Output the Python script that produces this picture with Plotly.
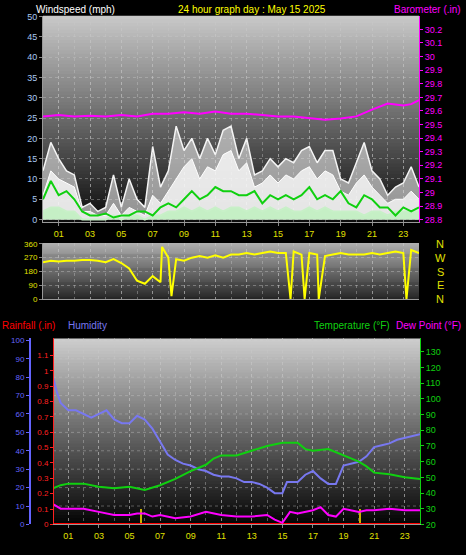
import plotly.graph_objects as go

# ---------------- data ----------------
wind_hours = [i * 0.5 for i in range(49)]
gust = [12,19,15,12,11,3,4,2,3,11,3,10,5,3,18,8,12,23,17,20,15,20,16,22,23,15,20,11,12,15,13,15,14,17,18,14,17,17,10,9,14,19,12,10,6,8,9,13,8]
wind_mid = [6,12,10,9,8,2,2,1,1,4,1,3,2,1,6,4,7,10,13,15,10,13,12,16,17,12,14,8,9,11,9,11,10,12,13,10,12,11,7,6,9,11,8,6,4,5,5,7,5]
wind_avg = [5,9.5,6,7,5,2,1,1,1.5,0.5,1,1,2,2,1,3,4,3,5,7,5,6,8,7,7,6,6,7,4,6,5,6,5,6,8,5,6,5,7,4,3,6,5,3,3,1,3,2,3]
wind_low = [2,3,3,2,2,0,0,0,0,1,0,1,1,0,1,1,2,2,3,2,3,2,3,2,3,3,2,3,2,3,2,3,2,2,3,2,3,2,2,2,2,1,2,2,1,2,2,2,2]

baro_hours = [0,1,2,3,4,5,6,7,8,9,10,11,12,13,14,15,16,17,18,19,20,21,22,23,23.5,24]
baro = [29.56,29.57,29.56,29.565,29.56,29.57,29.56,29.58,29.58,29.59,29.58,29.595,29.58,29.58,29.57,29.56,29.56,29.55,29.535,29.545,29.56,29.61,29.655,29.64,29.65,29.68]

dir_hours = [0,0.5,1,1.5,2,2.5,3,3.5,4,4.5,5,5.5,6,6.5,7,7.5,7.6,8,8.2,8.5,9,9.5,10,10.5,11,11.5,12,12.5,13,13.5,14,14.5,15,15.5,15.8,16,16.5,16.7,17,17.5,17.6,18,18.5,19,19.5,20,20.5,21,21.5,22,22.5,23,23.2,23.5,24]
wind_dir = [240,250,245,250,250,255,255,250,240,260,235,200,120,100,150,110,340,270,20,260,250,270,280,270,285,270,290,290,300,290,300,310,300,300,0,310,290,0,300,290,0,280,290,300,290,290,290,300,290,300,310,300,0,320,300]

hum_hours = [0,0.25,0.5,1,1.5,2,2.5,3,3.5,4,4.5,5,5.5,6,6.5,7,7.5,8,8.5,9,9.5,10,10.5,11,11.5,12,12.5,13,13.5,14,14.5,15,15.3,16,16.5,17,17.5,18,18.5,19,19.5,20,20.5,21,21.5,22,22.5,23,23.5,24]
humidity = [80,72,66,62,62,60,58,60,62,57,55,55,59,57,52,45,38,35,33,32,30,29,27,26,26,25,23,23,22,20,17,17,23,23,27,29,25,22,22,32,33,34,37,42,43,44,46,47,48,49]

temp_hours = [0,0.5,1,2,3,4,5,6,7,8,9,10,10.5,11,12,13,14,15,16,16.5,17,18,19,20,20.5,21,22,23,24]
temperature = [43,45,46,46,44,43,44,42,45,49,54,58,62,64,64,67,70,72,72,68,67,68,64,60,57,53,52,50,49]

dew_hours = [0,0.5,1,2,3,4,5,5.5,6,6.5,7,8,9,10,11,12,13,14,14.5,15,15.5,16,17,17.5,18,18.5,19,20,20.5,21,22,23,24]
dewpoint = [33,30,30,30,28,26,26,27,27,25,26,24,25,28,26,25,25,26,23,21,28,27,29,31,26,25,30,28,29,29,30,29,29]

rain_hours = [0,24]
rainfall = [0,0]
event_hours = [5.75,20.1]
event_vals = [0.1,0.1]

hour_ticks = list(range(1,24,2))
hour_labels = ["%02d" % h for h in hour_ticks]

# ---------------- figure ----------------
W, H = 466, 555
def px(x): return x / W
def py(y): return 1 - y / H

FONT = "Liberation Sans"
fig = go.Figure()

# panel 1
fig.add_trace(go.Scatter(x=wind_hours, y=gust, mode="lines", line=dict(color="#f4f4f4", width=1.5),
                         fill="tozeroy", fillcolor="rgba(220,220,220,0.65)", xaxis="x", yaxis="y"))
fig.add_trace(go.Scatter(x=wind_hours, y=wind_mid, mode="lines", line=dict(color="#ffffff", width=1),
                         fill="tozeroy", fillcolor="rgba(250,250,250,0.8)", xaxis="x", yaxis="y"))
fig.add_trace(go.Scatter(x=wind_hours, y=wind_low, mode="lines", line=dict(color="#c8f0c8", width=2),
                         fill="tozeroy", fillcolor="rgba(190,240,190,0.85)", xaxis="x", yaxis="y"))
fig.add_trace(go.Scatter(x=wind_hours, y=wind_avg, mode="lines", line=dict(color="#10d010", width=2),
                         xaxis="x", yaxis="y"))
fig.add_trace(go.Scatter(x=baro_hours, y=baro, mode="lines", line=dict(color="#ff00ff", width=2),
                         xaxis="x", yaxis="y2"))
# panel 2
fig.add_trace(go.Scatter(x=dir_hours, y=wind_dir, mode="lines", line=dict(color="#ffff00", width=2),
                         xaxis="x2", yaxis="y3"))
# panel 3
fig.add_trace(go.Scatter(x=hum_hours, y=humidity, mode="lines", line=dict(color="#7878f0", width=2),
                         xaxis="x3", yaxis="y4"))
fig.add_trace(go.Scatter(x=rain_hours, y=rainfall, mode="lines", line=dict(color="#ff0000", width=3),
                         xaxis="x3", yaxis="y5"))
fig.add_trace(go.Bar(x=event_hours, y=event_vals, width=0.12, marker=dict(color="#c8b400", line=dict(width=0)),
                     xaxis="x3", yaxis="y5"))
fig.add_trace(go.Scatter(x=temp_hours, y=temperature, mode="lines", line=dict(color="#10d010", width=2),
                         xaxis="x3", yaxis="y6"))
fig.add_trace(go.Scatter(x=dew_hours, y=dewpoint, mode="lines", line=dict(color="#ff00ff", width=2),
                         xaxis="x3", yaxis="y6"))

GC = "rgba(200,200,200,0.4)"
grid = dict(showgrid=True, gridcolor=GC, griddash="dot", gridwidth=1, zeroline=False)
xcommon = dict(range=[0, 24], tickvals=hour_ticks, ticktext=hour_labels,
               tickfont=dict(color="#e0e000", size=9, family=FONT), ticks="outside", ticklen=3,
               tickcolor="#888", showline=True, linecolor="#999",
               minor=dict(dtick=1, showgrid=True, gridcolor=GC, griddash="dot"), **grid)

def ticks(vals, fmt):
    return dict(tickvals=vals, ticktext=[fmt(v) for v in vals])

baro_t = [round(28.8 + 0.1 * i, 1) for i in range(15)]
fig.update_layout(
    width=W, height=H, margin=dict(l=0, r=0, t=0, b=0),
    paper_bgcolor="black", plot_bgcolor="rgba(0,0,0,0)", showlegend=False,
    font=dict(family=FONT, size=9),
    xaxis=dict(domain=[px(43), px(419)], anchor="y", **xcommon),
    yaxis=dict(domain=[py(222), py(12)], range=[-0.7, 50.2], dtick=5,
               tickfont=dict(color="#a8c8f0", size=9), ticks="outside", ticklen=3, tickcolor="#888",
               showline=True, linecolor="#999", **grid),
    yaxis2=dict(overlaying="y", side="right", anchor="x", range=[28.78, 30.3],
                tickfont=dict(color="#ff00ff", size=9), ticks="outside", ticklen=3, tickcolor="#ff00ff",
                showline=True, linecolor="#ff00ff", showgrid=False, zeroline=False,
                **ticks(baro_t, lambda v: ("%g" % v))),
    xaxis2=dict(domain=[px(43), px(419)], anchor="y3", range=[0, 24], tickvals=hour_ticks,
                showticklabels=False, showline=True, linecolor="#999",
                minor=dict(dtick=1, showgrid=True, gridcolor=GC, griddash="dot"), **grid),
    yaxis3=dict(domain=[py(300), py(243)], range=[0, 365], tickvals=[0, 90, 180, 270, 360],
                tickfont=dict(color="#e0e000", size=8), ticks="outside", ticklen=3, tickcolor="#888",
                showline=True, linecolor="#999", **grid),
    xaxis3=dict(domain=[px(53), px(420)], anchor="y6", **xcommon),
    yaxis4=dict(domain=[py(529), py(340)], range=[0, 101], dtick=10, anchor="free", position=px(30),
                tickfont=dict(color="#6464ff", size=8), ticks="outside", ticklen=3, tickcolor="#6464ff",
                showline=True, linecolor="#6464ff", linewidth=2, showgrid=False, zeroline=False),
    yaxis5=dict(overlaying="y4", anchor="free", position=px(53), range=[0, 1.21],
                tickfont=dict(color="#ff2020", size=8), ticks="outside", ticklen=3, tickcolor="#ff2020",
                showline=True, linecolor="#ff2020", showgrid=False, zeroline=False,
                **ticks([round(0.1 * i, 1) for i in range(12)], lambda v: "%g" % v)),
    yaxis6=dict(overlaying="y4", side="right", anchor="x3", range=[20, 138.5], tickvals=list(range(20, 131, 10)),
                tickfont=dict(color="#10d010", size=9), ticks="outside", ticklen=3, tickcolor="#10d010",
                showline=True, linecolor="#10d010", showgrid=False, zeroline=False),
    bargap=0,
)
shapes = []
def gradient(xref, yref, top, bottom, n=60):
    for i in range(n):
        t = i / (n - 1)
        c = [int(top[k] + (bottom[k] - top[k]) * t) for k in range(3)]
        shapes.append(dict(type="rect", xref=xref + " domain", yref=yref + " domain",
                           x0=0, x1=1, y0=max(0, 1 - (i + 1.6) / n), y1=1 - i / n, layer="below",
                           line=dict(width=0), fillcolor="rgb(%d,%d,%d)" % tuple(c)))
gradient("x", "y", (200, 200, 200), (12, 12, 12))
gradient("x2", "y3", (175, 175, 175), (40, 40, 40))
gradient("x3", "y4", (205, 205, 205), (5, 5, 5))
for v in range(10, 101, 10):
    shapes.append(dict(type="line", xref="x3 domain", yref="y4", x0=0, x1=1, y0=v, y1=v, layer="below",
                       line=dict(color=GC, width=1, dash="dot")))
fig.update_layout(shapes=shapes)

ann = [
    dict(x=px(34), y=py(6), text="Windspeed (mph)", font=dict(color="white", size=10), xanchor="left"),
    dict(x=px(252), y=py(6), text="24 hour graph day : May 15 2025", font=dict(color="#ffff00", size=10), xanchor="center"),
    dict(x=px(463), y=py(6), text="Barometer (.in)", font=dict(color="#ff00ff", size=10), xanchor="right"),
    dict(x=px(0), y=py(327), text="Rainfall (.in)", font=dict(color="#ff0000", size=10), xanchor="left"),
    dict(x=px(66), y=py(327), text="Humidity", font=dict(color="#7878f0", size=10), xanchor="left"),
    dict(x=px(392), y=py(327), text="Temperature (°F)", font=dict(color="#10d010", size=10), xanchor="right"),
    dict(x=px(463), y=py(327), text="Dew Point (°F)", font=dict(color="#ff00ff", size=10), xanchor="right"),
]
for i, d in enumerate(["N", "W", "S", "E", "N"]):
    ann.append(dict(x=px(440), y=py(244 + i * 14), text=d, font=dict(color="#e0e000", size=11), xanchor="center"))
for a in ann:
    a.update(xref="paper", yref="paper", showarrow=False, yanchor="middle")
    a["font"]["family"] = FONT
fig.update_layout(annotations=ann)

fig.write_html("out.html", config={"displayModeBar": False},
               post_script="document.body.style.margin='0';document.body.style.background='black';")
